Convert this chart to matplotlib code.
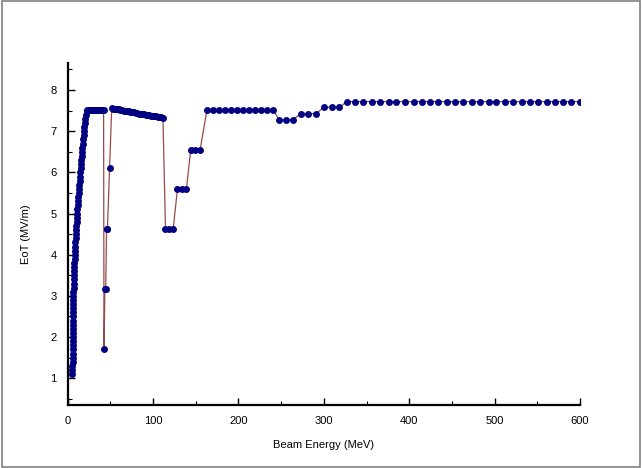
import matplotlib
matplotlib.use("Agg")
import matplotlib.pyplot as plt
from matplotlib.patches import Rectangle
from matplotlib.ticker import MultipleLocator

plt.rcParams["font.family"] = ["Liberation Sans", "DejaVu Sans"]

# ramp up at low energy
ramp_e = [5.5, 5.5, 5.55, 5.6, 5.6, 5.65, 5.7, 5.7, 5.75, 5.8, 5.85, 5.95,
          6.0, 6.05, 6.15, 6.2, 6.3, 6.4, 6.5, 6.6, 6.7, 6.8, 6.95, 7.1, 7.2,
          7.4, 7.6, 7.8, 8.0, 8.2, 8.4, 8.7, 9.0, 9.2, 9.5, 9.8, 10.0, 10.3,
          10.7, 11.0, 11.3, 11.7, 12.0, 12.3, 12.7, 13.0, 13.4, 13.8, 14.2,
          14.6, 15.0, 15.4, 15.8, 16.2, 16.7, 17.1, 17.6, 18.1, 18.5, 19.0,
          19.6, 20.2, 20.8, 21.5, 22.2]
ramp_eot = [1.1, 1.2, 1.3, 1.4, 1.5, 1.6, 1.7, 1.8, 1.9, 2.0, 2.1, 2.2, 2.3,
            2.4, 2.5, 2.6, 2.7, 2.8, 2.9, 3.0, 3.1, 3.2, 3.3, 3.4, 3.5, 3.6,
            3.7, 3.8, 3.9, 4.0, 4.1, 4.2, 4.3, 4.4, 4.5, 4.6, 4.7, 4.8, 4.9,
            5.0, 5.1, 5.2, 5.3, 5.4, 5.5, 5.6, 5.7, 5.8, 5.9, 6.0, 6.1, 6.2,
            6.3, 6.4, 6.5, 6.6, 6.7, 6.8, 6.9, 7.0, 7.1, 7.2, 7.3, 7.4, 7.5]

# first plateau and dip around 43 MeV
dip1_e = [23.0, 24.0, 25.5, 27.0, 28.5, 30.0, 31.5, 33.0, 34.5, 36.0, 37.5,
          39.0, 40.5, 42.0, 42.5, 43.5, 44.5, 45.5, 46.5, 49.0]
dip1_eot = [7.52, 7.52, 7.52, 7.52, 7.52, 7.52, 7.52, 7.52, 7.52, 7.52, 7.52,
            7.52, 7.52, 7.52, 1.72, 3.18, 3.18, 4.63, 4.63, 6.10]

# slowly falling section
slope_e = [51.5, 53.5, 55.5, 57.5, 59.5, 61.5, 63.5, 65.5, 67.5, 69.5, 71.5,
           73.5, 75.5, 77.5, 79.5, 81.5, 83.5, 85.5, 87.5, 89.5, 91.5, 93.5,
           95.5, 97.5, 99.5, 101.5, 103.5, 105.5, 107.5, 109.5, 111.5]
slope_eot = [7.56, 7.55, 7.55, 7.54, 7.53, 7.52, 7.51, 7.50, 7.50, 7.49, 7.48,
             7.47, 7.47, 7.46, 7.45, 7.44, 7.43, 7.43, 7.42, 7.41, 7.40, 7.40,
             7.39, 7.38, 7.37, 7.37, 7.36, 7.35, 7.35, 7.34, 7.33]

# second dip and steps back up
dip2_e = [114.5, 119.0, 123.5, 128.5, 133.5, 139.0, 144.0, 149.5, 155.0]
dip2_eot = [4.63, 4.63, 4.63, 5.59, 5.59, 5.59, 6.54, 6.54, 6.54]

# high energy part
high_e = [163, 170, 177, 184, 191, 198, 205, 212, 219, 226, 233, 240,
          248, 256, 264, 273, 282, 291, 300, 309, 318,
          327, 337, 346, 356, 366, 376, 385, 395, 405, 415, 424, 434, 444,
          454, 463, 473, 483, 493, 502, 512, 522, 532, 541, 551, 561, 571,
          580, 590, 600]
high_eot = [7.52, 7.52, 7.52, 7.52, 7.52, 7.52, 7.52, 7.52, 7.52, 7.52, 7.52,
            7.52, 7.28, 7.28, 7.28, 7.43, 7.43, 7.43, 7.58, 7.58, 7.58,
            7.72, 7.72, 7.72, 7.72, 7.72, 7.72, 7.72, 7.72, 7.72, 7.72, 7.72,
            7.72, 7.72, 7.72, 7.72, 7.72, 7.72, 7.72, 7.72, 7.72, 7.72, 7.72,
            7.72, 7.72, 7.72, 7.72, 7.72, 7.72, 7.72]

energy = ramp_e + dip1_e + slope_e + dip2_e + high_e
eot = ramp_eot + dip1_eot + slope_eot + dip2_eot + high_eot

fig = plt.figure(figsize=(6.42, 4.68), dpi=100)
fig.patches.append(Rectangle((0.003, 0.003), 0.994, 0.994, transform=fig.transFigure,
                             fill=False, edgecolor="#808080", linewidth=1.2))
ax = fig.add_axes([0.1055, 0.1346, 0.7979, 0.7301])

ax.plot(energy, eot, color="#9A4848", linewidth=0.9, zorder=2)
ax.plot(energy, eot, linestyle="none", marker="o", markersize=5,
        color="#000080", markeredgewidth=0, zorder=3)

ax.set_xlim(0, 600)
ax.set_ylim(0.35, 8.65)
ax.xaxis.set_major_locator(MultipleLocator(100))
ax.xaxis.set_minor_locator(MultipleLocator(50))
ax.yaxis.set_major_locator(MultipleLocator(1))
ax.yaxis.set_minor_locator(MultipleLocator(0.5))
ax.set_yticks([1, 2, 3, 4, 5, 6, 7, 8])
ax.tick_params(which="major", direction="in", length=5, width=1, labelsize=8,
               pad=8, colors="black")
ax.tick_params(which="minor", direction="in", length=3, width=0.8)

for side in ["top", "right"]:
    ax.spines[side].set_visible(False)
for side in ["left", "bottom"]:
    ax.spines[side].set_linewidth(1.6)

ax.set_xlabel("Beam Energy (MeV)", fontsize=8, labelpad=10)
ax.set_ylabel("EoT (MV/m)", fontsize=8, labelpad=14)

fig.savefig("out.png", dpi=100)
plt.close(fig)
